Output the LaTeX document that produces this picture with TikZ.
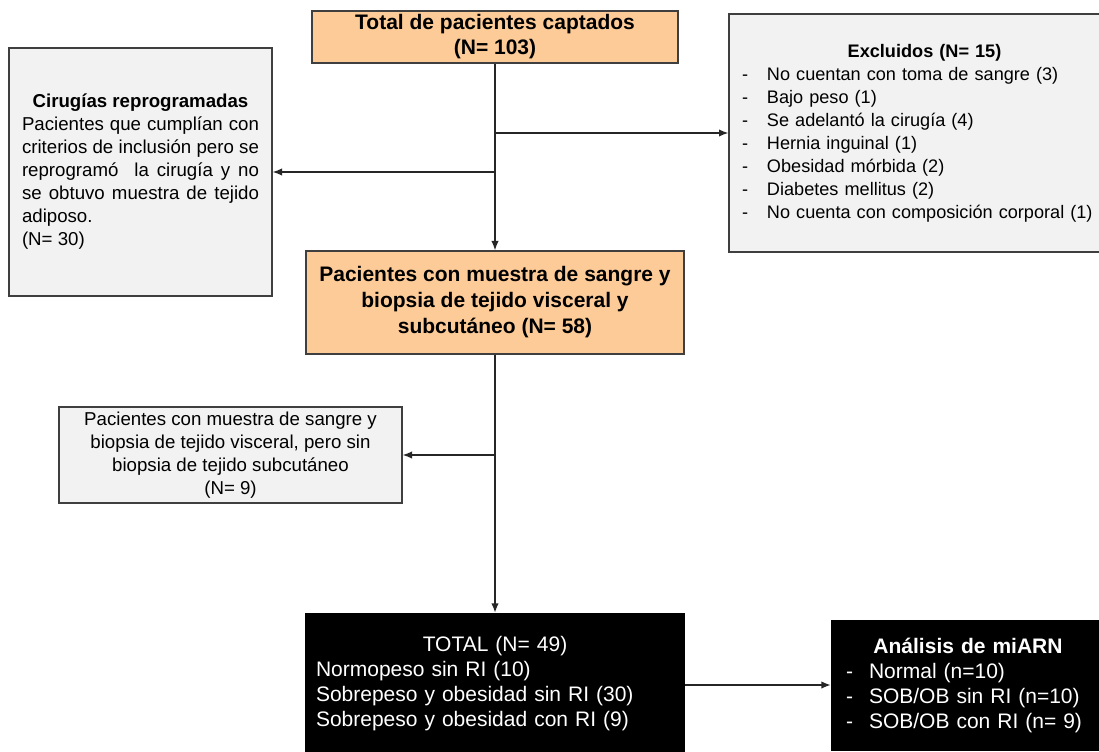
\documentclass[tikz,border=0pt]{standalone}
\usepackage{fontspec}
\setmainfont{Liberation Sans}
\usetikzlibrary{arrows.meta}

\definecolor{naranja}{HTML}{FDCB97}
\definecolor{gris}{HTML}{F2F2F2}
\definecolor{borde}{HTML}{3F3F3F}

% guion de lista con sangria
\newcommand{\guion}[2][18.75pt]{\makebox[#1][l]{-}#2}

\tikzset{
  caja/.style={draw=borde, line width=1pt, inner sep=0pt},
  naranjabox/.style={caja, fill=naranja, align=center, font=\fontsize{15.75}{18.75}\selectfont\bfseries},
  grisbox/.style={caja, fill=gris, font=\fontsize{14}{17.25}\selectfont},
  negrobox/.style={draw=black, fill=black, text=white, inner sep=0pt, align=left, font=\fontsize{15.75}{18.75}\selectfont},
  flecha/.style={line width=1pt, draw=black!85, -{Latex[length=7pt,width=5.5pt]}},
}

\begin{document}
\begin{tikzpicture}[x=0.75pt,y=-0.75pt]
    \useasboundingbox (0,0) rectangle (1099,752);
    \clip (0,0) rectangle (1099,752);

    % Cajas principales
    \node[naranjabox, minimum width=274.5pt, minimum height=39pt] (captados) at (495,37)
        {Total de pacientes captados\\(N= 103)};
    \node[naranjabox, minimum width=283.5pt, minimum height=77.25pt, font=\fontsize{15.75}{19.5}\selectfont\bfseries] (muestra) at (495,302.5)
        {Pacientes con muestra de sangre y\\biopsia de tejido visceral y\\subcutáneo (N= 58)};

    % Excluidos
    \node[grisbox, minimum width=197.25pt, minimum height=186pt, text width=177.75pt, align=justify] (reprog) at (140.5,172)
        {\makebox[\linewidth]{\textbf{Cirugías reprogramadas}}\par
        Pacientes que cumplían con\linebreak criterios de inclusión pero se\linebreak reprogramó\ \ la cirugía y no\linebreak se obtuvo muestra de tejido\linebreak adiposo.\newline (N= 30)};
    \node[grisbox, minimum width=293.25pt, minimum height=178.5pt, text width=273.75pt, align=left, font=\fontsize{13.6}{17.25}\selectfont] (excl) at (924.5,133)
        {\makebox[\linewidth]{\textbf{Excluidos (N= 15)}}\\
        \guion{No cuentan con toma de sangre (3)}\\
        \guion{Bajo peso (1)}\\
        \guion{Se adelantó la cirugía (4)}\\
        \guion{Hernia inguinal (1)}\\
        \guion{Obesidad mórbida (2)}\\
        \guion{Diabetes mellitus (2)}\\
        \guion{No cuenta con composición corporal (1)}};
    \node[grisbox, minimum width=257.25pt, minimum height=72pt, align=center] (sinsub) at (230.5,455)
        {Pacientes con muestra de sangre y\\biopsia de tejido visceral, pero sin\\biopsia de tejido subcutáneo\\(N= 9)};

    % Resultado final
    \node[negrobox, minimum width=284.25pt, minimum height=106.5pt, text width=268.5pt] (total) at (495,684)
        {\makebox[\linewidth]{TOTAL (N= 49)}\\
        Normopeso sin RI (10)\\
        Sobrepeso y obesidad sin RI (30)\\
        Sobrepeso y obesidad con RI (9)};
    \node[negrobox, minimum width=205.5pt, minimum height=97.5pt, text width=183pt] (analisis) at (968,685)
        {\makebox[\linewidth]{\textbf{Análisis de miARN}}\\
        \guion[17.25pt]{Normal (n=10)}\\
        \guion[17.25pt]{SOB/OB sin RI (n=10)}\\
        \guion[17.25pt]{SOB/OB con RI (n= 9)}};

    % Flechas
    \coordinate (b1) at (captados.south |- excl.west);
    \coordinate (b2) at (captados.south |- reprog.east);
    \coordinate (b3) at (muestra.south |- sinsub.east);
    \coordinate (b4) at (total.east |- analisis.west);
    \draw[flecha] (captados.south) -- (muestra.north);
    \draw[flecha] (b1) -- (excl.west);
    \draw[flecha] (b2) -- (reprog.east);
    \draw[flecha] (muestra.south) -- (total.north);
    \draw[flecha] (b3) -- (sinsub.east);
    \draw[flecha] (b4) -- (analisis.west);
\end{tikzpicture}
\end{document}
